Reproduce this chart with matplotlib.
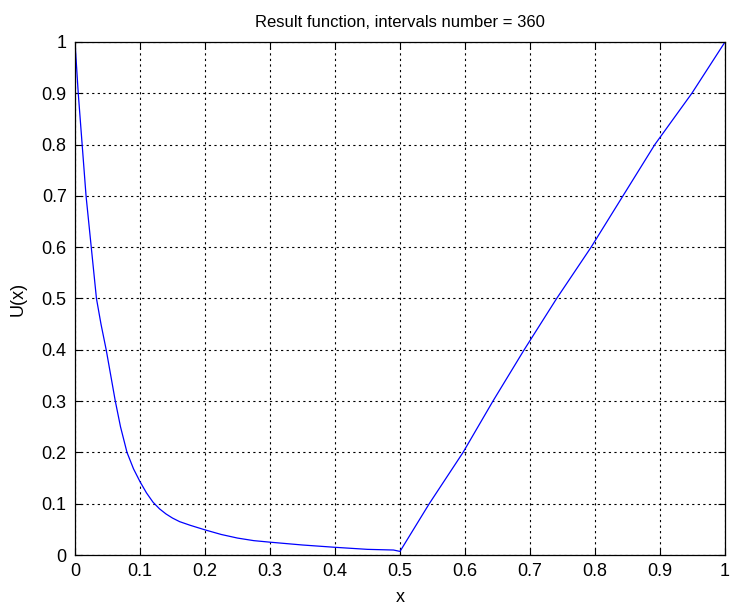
import matplotlib
matplotlib.use('Agg')
from matplotlib import pyplot as plt

# values
x_vals = [0.0, 0.005, 0.011, 0.017, 0.025, 0.033, 0.040, 0.048, 0.055,
          0.062, 0.070, 0.080, 0.090, 0.100, 0.110, 0.120, 0.130, 0.140, 0.150,
          0.161, 0.177, 0.200, 0.225, 0.250, 0.275, 0.300, 0.350, 0.400, 0.450,
          0.490, 0.500, 0.545, 0.597, 0.643, 0.691, 0.741, 0.794, 0.892, 0.949, 1.0]
u_vals = [1.0, 0.90, 0.80, 0.70, 0.60, 0.50, 0.45, 0.40, 0.35,
          0.30, 0.25, 0.20, 0.168, 0.143, 0.121, 0.103, 0.090, 0.080, 0.072,
          0.065, 0.058, 0.049, 0.040, 0.033, 0.028, 0.025, 0.0195, 0.015, 0.011,
          0.0097, 0.007, 0.10, 0.20, 0.30, 0.40, 0.50, 0.60, 0.80, 0.90, 1.0]

ticks = [0, 0.1, 0.2, 0.3, 0.4, 0.5, 0.6, 0.7, 0.8, 0.9, 1]
tick_labels = ['0', '0.1', '0.2', '0.3', '0.4', '0.5', '0.6', '0.7', '0.8', '0.9', '1']

plt.rcParams['font.family'] = ['Liberation Sans', 'DejaVu Sans']

fig = plt.figure(figsize=(7.31, 6.05), dpi=100)
ax = fig.add_axes([75/731, 50/605, 650/731, 513/605])

ax.plot(x_vals, u_vals, color='blue', linewidth=0.9)

ax.set_xlim(0, 1)
ax.set_ylim(0, 1)
ax.set_xticks(ticks)
ax.set_xticklabels(tick_labels, fontsize=13)
ax.set_yticks(ticks)
ax.set_yticklabels(tick_labels, fontsize=13)
ax.tick_params(direction='in', length=5, width=0.8, top=True, right=True, pad=6)
ax.grid(True, color='black', linestyle=(0, (2, 3)), linewidth=0.8)
for s in ax.spines.values():
    s.set_linewidth(0.9)

ax.set_title('Result function, intervals number = 360', fontsize=12, pad=11)
ax.set_xlabel('x', fontsize=13, labelpad=6)
ax.set_ylabel('U(x)', fontsize=13, labelpad=11)

plt.savefig('out.png', dpi=100)
